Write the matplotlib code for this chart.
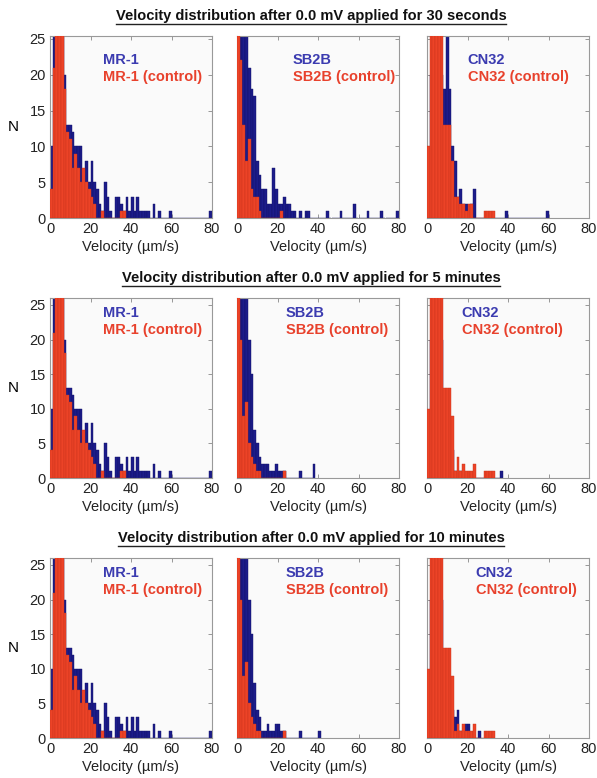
import numpy as np
import matplotlib
matplotlib.use("Agg")
import matplotlib.pyplot as plt
from matplotlib.lines import Line2D

plt.rcParams["font.family"] = ["Liberation Sans", "DejaVu Sans"]

# ---------- DATA (counts per bin, bin width 4/3 um/s starting at 0) ----------
BIN = 4.0 / 3.0

row_titles = [
    "Velocity distribution after 0.0 mV applied for 30 seconds",
    "Velocity distribution after 0.0 mV applied for 5 minutes",
    "Velocity distribution after 0.0 mV applied for 10 minutes",
]
strains = ["MR-1", "SB2B", "CN32"]

mr1 = [10, 30, 30, 30, 30, 20, 13, 13, 12, 10, 10, 10, 6, 8, 5, 8, 5, 4, 2, 1,
       5, 3, 1, 0, 3, 3, 2, 1, 3, 1, 3, 1, 3, 1, 1, 1, 1, 0, 2, 0,
       1, 0, 0, 0, 1, 0, 0, 0, 0, 0, 0, 0, 0, 0, 0, 0, 0, 0, 0, 1]
mr1_ctrl = [4, 21, 30, 30, 30, 18, 12, 11, 7, 9, 7, 5, 7, 5, 4, 3, 2, 0, 0, 1,
            0, 0, 0, 0, 0, 0, 1, 1]

sb2b_30s = [20, 30, 30, 30, 21, 18, 17, 8, 6, 4, 4, 2, 2, 7, 4, 2, 2, 3, 2, 2,
            1, 1, 0, 1, 0, 1, 1, 0, 0, 0, 0, 0, 0, 1, 0, 0, 0, 0, 1, 0,
            0, 0, 0, 2, 0, 0, 0, 0, 1, 0, 0, 0, 0, 1, 0, 0, 0, 0, 0, 1]
sb2b_ctrl_30s = [30, 22, 13, 8, 11, 4, 3, 3, 1, 0, 0, 0, 0, 0, 0, 0, 1]

sb2b_5min = [30, 30, 30, 30, 20, 15, 7, 5, 3, 2, 2, 2, 1, 1, 2, 1, 1, 1, 0, 0,
             0, 0, 0, 1, 0, 0, 0, 0, 2]
sb2b_ctrl_5min = [30, 20, 9, 11, 5, 3, 2, 1, 1, 0, 0, 0, 0, 0, 0, 0, 0, 1]

sb2b_10min = [30, 30, 30, 30, 20, 15, 8, 4, 3, 1, 1, 2, 1, 1, 2, 2, 1, 1, 0, 0,
              0, 0, 0, 1, 0, 0, 0, 0, 0, 0, 1]
sb2b_ctrl_10min = [30, 20, 9, 11, 5, 3, 2, 1, 1, 0, 0, 0, 0, 0, 0, 0, 0, 1]

cn32_30s = [5, 20, 20, 20, 20, 20, 18, 30, 18, 10, 8, 3, 4, 2, 2, 1, 2, 4, 0, 0,
            0, 0, 0, 0, 0, 0, 0, 0, 0, 1, 0, 0, 0, 0, 0, 0, 0, 0, 0, 0,
            0, 0, 0, 0, 1]
cn32_ctrl_30s = [10, 30, 30, 30, 30, 30, 13, 13, 13, 8, 3, 3, 2, 2, 1, 2, 2, 0, 0, 0,
                 0, 1, 1, 1, 1]

cn32_5min = [5, 20, 20, 20, 20, 20, 10, 8, 6, 4, 1, 1, 1, 1, 0, 0, 0, 0, 0, 0,
             0, 0, 0, 0, 0, 0, 0, 1]
cn32_ctrl_5min = [10, 30, 30, 30, 30, 30, 13, 13, 13, 9, 1, 3, 1, 2, 1, 1, 1, 2, 0, 0,
                  0, 1, 1, 1, 1]

cn32_10min = [5, 20, 20, 20, 20, 20, 10, 8, 6, 4, 3, 4, 1, 1, 2, 2, 0, 0, 0, 1]
cn32_ctrl_10min = [10, 30, 30, 30, 30, 30, 13, 13, 13, 9, 1, 2, 1, 2, 1, 1, 1, 2, 0, 0,
                   0, 1, 1, 1, 1]

panels = [
    [(mr1, mr1_ctrl), (sb2b_30s, sb2b_ctrl_30s), (cn32_30s, cn32_ctrl_30s)],
    [(mr1, mr1_ctrl), (sb2b_5min, sb2b_ctrl_5min), (cn32_5min, cn32_ctrl_5min)],
    [(mr1, mr1_ctrl), (sb2b_10min, sb2b_ctrl_10min), (cn32_10min, cn32_ctrl_10min)],
]

# ---------- LAYOUT (pixels) ----------
W, H = 597, 778
col_left = [50, 237, 427]
ax_w = 162
row_top = [36, 298, 558]
ax_h = [182, 180, 180]
ylims = [25.4, 26, 26]
title_y = [16, 278, 538]
legend_pos = [
    [(0.33, 0.87), (0.345, 0.87), (0.25, 0.87)],
    [(0.33, 0.915), (0.30, 0.915), (0.215, 0.915)],
    [(0.33, 0.915), (0.30, 0.915), (0.30, 0.915)],
]

BLUE = "#1c1c8a"
BLUE_EDGE = "#121266"
RED = "#ec4327"
RED_EDGE = "#c8341c"
BLUE_TXT = "#3b3bb0"
RED_TXT = "#e8412c"

fig = plt.figure(figsize=(W / 100, H / 100), dpi=100)
fig.patch.set_facecolor("white")

for r in range(3):
    for c in range(3):
        ax = fig.add_axes([col_left[c] / W, 1 - (row_top[r] + ax_h[r]) / H,
                           ax_w / W, ax_h[r] / H])
        ax.set_facecolor("#fafafa")
        strain, ctrl = panels[r][c]
        e1 = np.arange(len(strain)) * BIN
        e2 = np.arange(len(ctrl)) * BIN
        ax.bar(e1, strain, width=BIN, align="edge", color=BLUE,
               edgecolor=BLUE_EDGE, linewidth=0.3, zorder=2)
        ax.bar(e2, ctrl, width=BIN, align="edge", color=RED,
               edgecolor=RED_EDGE, linewidth=0.3, zorder=3)
        ax.set_xlim(0, 80)
        ax.set_ylim(0, ylims[r])
        ax.set_xticks([0, 20, 40, 60, 80])
        ax.set_yticks([0, 5, 10, 15, 20, 25])
        ax.tick_params(direction="in", length=3, width=0.6, color="#888888",
                       labelcolor="#222222", top=True, right=True,
                       labelsize=10.5, pad=3)
        for s in ax.spines.values():
            s.set_color("#999999")
            s.set_linewidth(0.8)
        if c > 0:
            ax.set_yticklabels([])
        else:
            ax.set_ylabel("N", fontsize=11, rotation=0, labelpad=12, va="center")
        ax.set_xlabel("Velocity (\u00b5m/s)", fontsize=10.5, labelpad=3,
                      color="#222222")

        lx, ly = legend_pos[r][c]
        name = strains[c]
        ax.text(lx, ly, name, transform=ax.transAxes, color=BLUE_TXT,
                fontsize=10.5, fontweight="bold", va="center", zorder=5)
        ax.text(lx, ly - 0.095, name + " (control)", transform=ax.transAxes,
                color=RED_TXT, fontsize=10.5, fontweight="bold", va="center", zorder=5)

# ---------- ROW TITLES (underlined) ----------
renderer = fig.canvas.get_renderer()
for r in range(3):
    t = fig.text(311 / W, 1 - title_y[r] / H, row_titles[r], ha="center",
                 va="center", fontsize=10.5, fontweight="bold", color="#111111")
    bb = t.get_window_extent(renderer).transformed(fig.transFigure.inverted())
    yline = bb.y0 - 1.0 / H
    fig.add_artist(Line2D([bb.x0, bb.x1], [yline, yline], color="#222222",
                          linewidth=1.0, transform=fig.transFigure))

fig.savefig("out.png", dpi=100)
plt.close(fig)
